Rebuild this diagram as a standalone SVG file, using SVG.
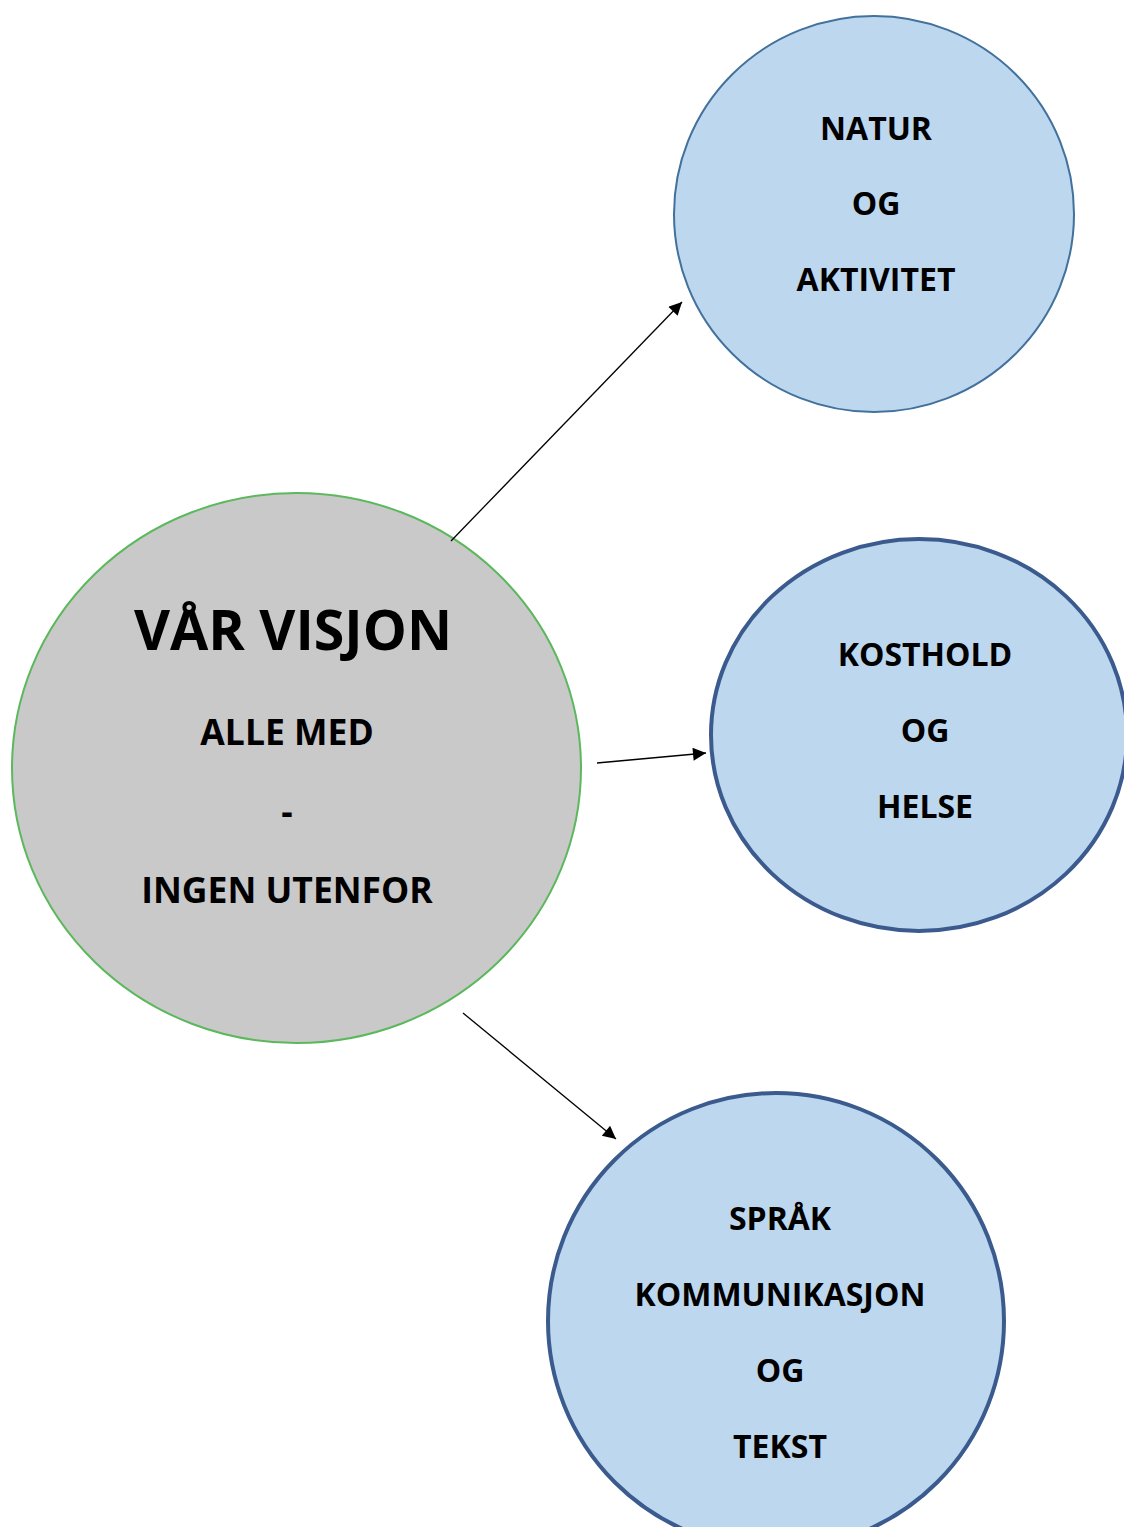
<svg xmlns="http://www.w3.org/2000/svg" width="1124" height="1527" viewBox="0 0 1124 1527">
<style>
.t{font-family:"Open Sans","Liberation Sans",sans-serif;font-weight:700;font-size:32px;fill:#000;text-anchor:middle}
.mid{font-size:35.5px}
.big{font-size:55.5px}
.blue{fill:#BDD7EE}
.conn line{stroke:#000;stroke-width:1.3;fill:none}
</style>
<defs>
<marker id="ah" viewBox="0 0 10 10" refX="10" refY="5" markerWidth="16" markerHeight="13" markerUnits="userSpaceOnUse" orient="auto">
<path d="M0,0 L10,5 L0,10 z" fill="#000"/>
</marker>
</defs>
<rect width="1124" height="1527" fill="#fff"/>
<g id="vision">
<ellipse cx="296.5" cy="768" rx="284.5" ry="275" fill="#C9C9C9" stroke="#5CB85C" stroke-width="2"/>
<text class="t big" x="293" y="650">VÅR VISJON</text>
<text class="t mid" x="287" y="745">ALLE MED</text>
<text class="t mid" x="287" y="824">-</text>
<text class="t mid" x="287" y="903">INGEN UTENFOR</text>
</g>
<g id="natur">
<ellipse class="blue" cx="874" cy="214" rx="200" ry="198" stroke="#41719C" stroke-width="2"/>
<text class="t" x="876" y="140">NATUR</text>
<text class="t" x="876" y="215">OG</text>
<text class="t" x="876" y="291">AKTIVITET</text>
</g>
<g id="kosthold">
<ellipse class="blue" cx="919" cy="735" rx="208" ry="196" stroke="#3B5B8E" stroke-width="4"/>
<text class="t" x="925" y="666">KOSTHOLD</text>
<text class="t" x="925" y="742">OG</text>
<text class="t" x="925" y="818">HELSE</text>
</g>
<g id="sprak">
<ellipse class="blue" cx="776" cy="1321" rx="228" ry="228" stroke="#3B5B8E" stroke-width="4"/>
<text class="t" x="780" y="1230">SPRÅK</text>
<text class="t" x="780" y="1306">KOMMUNIKASJON</text>
<text class="t" x="780" y="1382">OG</text>
<text class="t" x="780" y="1458">TEKST</text>
</g>
<g id="connectors" class="conn">
<line x1="451" y1="541" x2="682" y2="302" marker-end="url(#ah)"/>
<line x1="597" y1="763" x2="706" y2="753" marker-end="url(#ah)"/>
<line x1="463" y1="1013" x2="616" y2="1139" marker-end="url(#ah)"/>
</g>
</svg>
